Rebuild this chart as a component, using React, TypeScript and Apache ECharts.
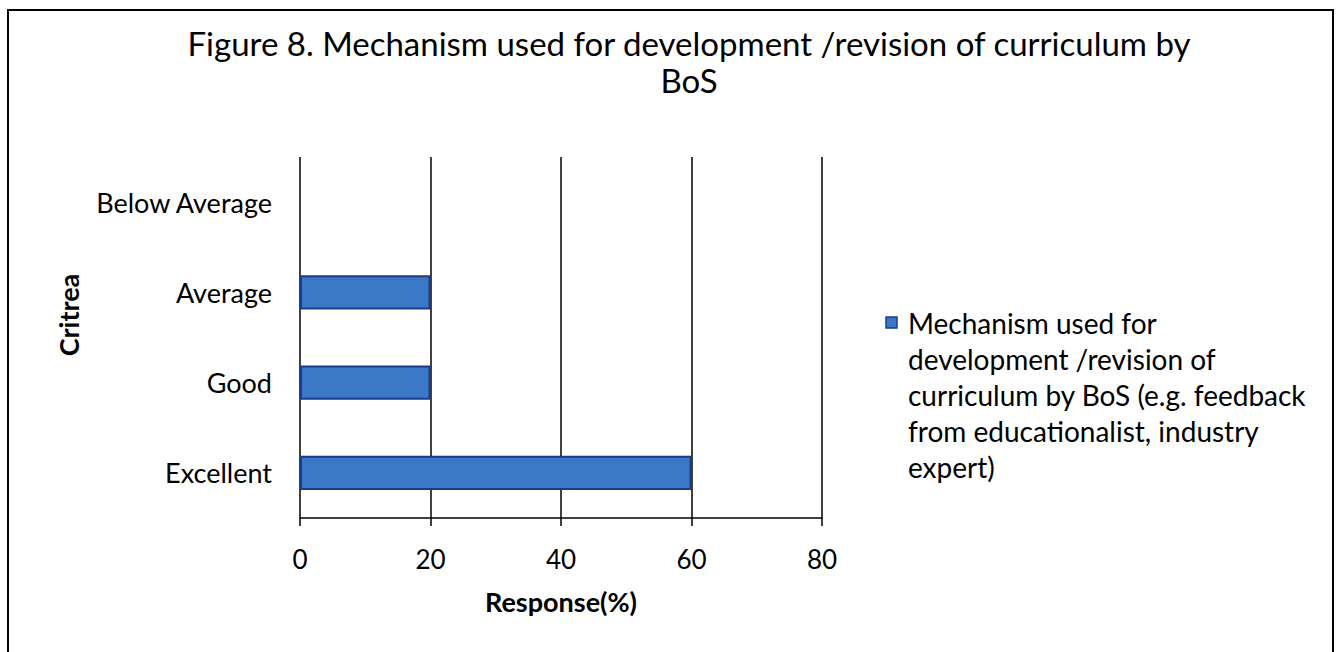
import React, { useEffect, useRef } from "react";
import * as echarts from "echarts";

const categories = ["Excellent", "Good", "Average", "Below Average"];
const values = [60, 20, 20, 0];
const xTicks = [0, 20, 40, 60, 80];
const seriesName =
  "Mechanism used for development /revision of curriculum by BoS (e.g. feedback from educationalist, industry expert)";
const legendLines = [
  "Mechanism used for",
  "development /revision of",
  "curriculum by BoS (e.g. feedback",
  "from educationalist, industry",
  "expert)",
];
const titleText = "Figure 8. Mechanism used for development /revision of curriculum by\nBoS";
const yAxisTitle = "Critrea";
const xAxisTitle = "Response(%)";

const FONT = "Lato, 'Open Sans', sans-serif";
const BAR_FILL = "#3b78c6";
const BAR_EDGE = "#1d3b8c";

export default function App() {
  const ref = useRef<HTMLDivElement>(null);
  useEffect(() => {
    if (!ref.current) return;
    const chart = echarts.init(ref.current, undefined, { renderer: "svg" });
    chart.setOption({
      animation: false,
      backgroundColor: "#ffffff",
      textStyle: { fontFamily: FONT, color: "#000" },
      title: {
        text: titleText,
        left: 684,
        textAlign: "center",
        top: 19,
        textStyle: {
          fontFamily: FONT,
          fontSize: 33,
          fontWeight: "normal",
          color: "#000",
          lineHeight: 37,
        },
      },
      grid: { left: 300, right: 516, top: 157, bottom: 134, containLabel: false },
      xAxis: {
        type: "value",
        min: 0,
        max: 80,
        interval: 20,
        name: xAxisTitle,
        nameLocation: "middle",
        nameGap: 70,
        nameTextStyle: { fontFamily: FONT, fontSize: 27, fontWeight: "bold", color: "#000" },
        axisLine: { show: true, lineStyle: { color: "#000", width: 1.5 } },
        axisTick: { show: true, length: 8, lineStyle: { color: "#000", width: 1.5 } },
        axisLabel: {
          fontFamily: FONT,
          fontSize: 26,
          color: "#000",
          margin: 28,
          formatter: (v: number) => (xTicks.includes(v) ? String(v) : ""),
        },
        splitLine: { show: true, lineStyle: { color: "#000", width: 1.5 } },
      },
      yAxis: {
        type: "category",
        data: categories,
        axisLine: { show: false },
        axisTick: { show: false },
        axisLabel: { fontFamily: FONT, fontSize: 27, color: "#000", margin: 28 },
        splitLine: { show: false },
      },
      series: [
        {
          name: seriesName,
          type: "bar",
          data: values.map((v) =>
            v === 0 ? { value: v, itemStyle: { borderWidth: 0 } } : v
          ),
          barWidth: "38%",
          itemStyle: { color: BAR_FILL, borderColor: BAR_EDGE, borderWidth: 2 },
        },
      ],
      graphic: [
        {
          type: "rect",
          shape: { x: 8, y: 10, width: 1325, height: 660 },
          style: { fill: "none", stroke: "#000", lineWidth: 2 },
          silent: true,
        },
        {
          type: "text",
          x: 68,
          y: 315,
          rotation: Math.PI / 2,
          style: {
            text: yAxisTitle,
            fontFamily: FONT,
            fontSize: 27,
            fontWeight: "bold",
            fill: "#000",
            align: "center",
            verticalAlign: "middle",
          },
        },
        {
          type: "rect",
          shape: { x: 886, y: 317, width: 11, height: 11 },
          style: { fill: BAR_FILL, stroke: BAR_EDGE, lineWidth: 1.5 },
        },
        {
          type: "text",
          x: 908,
          y: 305,
          style: {
            text: legendLines.join("\n"),
            fontFamily: FONT,
            fontSize: 28,
            lineHeight: 36,
            fill: "#000",
          },
        },
      ],
    });
    return () => chart.dispose();
  }, []);
  return (
    <div
      ref={ref}
      style={{ position: "fixed", left: 0, top: 0, width: 1338, height: 652 }}
    />
  );
}
